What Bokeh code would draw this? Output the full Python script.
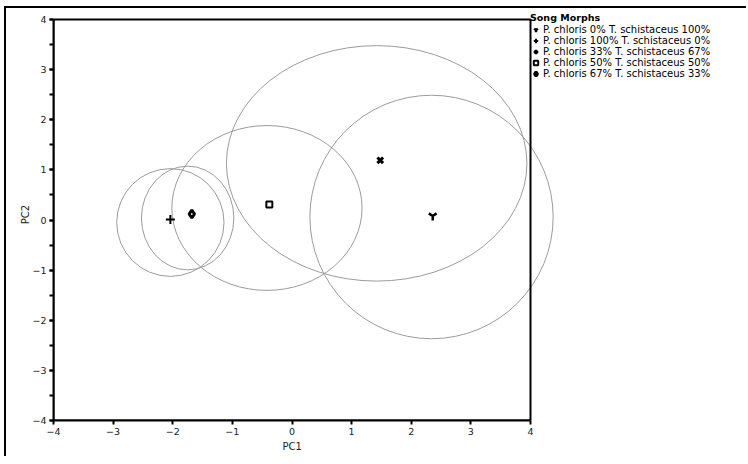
from bokeh.plotting import figure
from bokeh.models import (Range1d, SingleIntervalTicker, BoxAnnotation, Legend,
                          LegendItem, Title)
from bokeh.embed import file_html
from bokeh.resources import INLINE

# ---- data -------------------------------------------------------------
morph_labels = [
    "P. chloris 0% T. schistaceus 100%",
    "P. chloris 100% T. schistaceus 0%",
    "P. chloris 33% T. schistaceus 67%",
    "P. chloris 50% T. schistaceus 50%",
    "P. chloris 67% T. schistaceus 33%",
]
pc1_mean = [2.36, -2.04, 1.48, -0.38, -1.68]
pc2_mean = [0.08, 0.01, 1.19, 0.31, 0.12]
ellipse_pc1 = [2.34, -2.04, 1.42, -0.42, -1.75]
ellipse_pc2 = [0.06, -0.05, 1.13, 0.24, 0.04]
ellipse_width = [4.08, 1.80, 5.04, 3.19, 1.55]
ellipse_height = [4.86, 2.15, 4.70, 3.29, 2.07]
axis_min, axis_max = -4, 4

# ---- styles -----------------------------------------------------------
marker_styles = [
    dict(marker="y", size=9, line_width=2.5, fill_color="black"),
    dict(marker="cross", size=9, line_width=2, fill_color="black"),
    dict(marker="x", size=8, line_width=3, fill_color="black"),
    dict(marker="square", size=6, line_width=2, fill_color="white"),
    dict(marker="diamond", size=8, line_width=3, fill_color="white"),
]

FONT = "DejaVu Sans"
px_per_unit_x = 59.625
px_per_unit_y = 50.125
MB_LEFT = 47
W = 742
frame_w = W - MB_LEFT
x_end = axis_min + frame_w / px_per_unit_x
top_pad = 11                      # frame extends above y=4 so the legend is not clipped
y_end = axis_max + top_pad / px_per_unit_y

p = figure(width=W, height=450, output_backend="svg", toolbar_location=None,
           x_range=Range1d(axis_min, x_end), y_range=Range1d(axis_min, y_end),
           min_border_left=MB_LEFT, min_border_right=0, min_border_top=0,
           min_border_bottom=38,
           styles={"border-left": "2px solid black", "border-top": "2px solid black",
                   "margin-left": "4px", "margin-top": "6px"})
p.grid.visible = False
p.outline_line_color = None
p.background_fill_color = "white"
p.border_fill_color = "white"

# ellipses
p.ellipse(x=ellipse_pc1, y=ellipse_pc2, width=ellipse_width, height=ellipse_height,
          fill_color=None, line_color="#9b9b9b", line_width=1)

items = []
for i, lab in enumerate(morph_labels):
    st = marker_styles[i]
    r = p.scatter(x=[pc1_mean[i]], y=[pc2_mean[i]], line_color="black", **st)
    items.append(LegendItem(label=lab, renderers=[r]))

# frame box (top / right borders)
p.add_layout(BoxAnnotation(left=axis_min, right=axis_max, bottom=axis_min, top=axis_max,
                           fill_alpha=0, line_color="black", line_alpha=1,
                           line_width=2))

# axes
xa = p.xaxis[0]
xa.ticker = SingleIntervalTicker(interval=1, num_minor_ticks=0)
xa.bounds = (axis_min, axis_max)
ya = p.yaxis[0]
ya.ticker = SingleIntervalTicker(interval=1, num_minor_ticks=2)
ya.bounds = (axis_min, axis_max)
ya.axis_label = "PC2"
for ax in (xa, ya):
    ax.axis_line_width = 2
    ax.axis_line_color = "black"
    ax.major_tick_line_width = 2
    ax.minor_tick_line_width = 2
    ax.major_tick_out = 4
    ax.major_tick_in = 0
    ax.minor_tick_out = 4
    ax.minor_tick_in = 0
    ax.major_label_text_font = FONT
    ax.major_label_text_font_size = "9.5px"
    ax.major_label_text_color = "#222222"
    ax.major_label_standoff = 3
    ax.axis_label_text_font = FONT
    ax.axis_label_text_font_size = "10px"
    ax.axis_label_text_font_style = "normal"
    ax.axis_label_text_color = "#222222"
ya.axis_label_standoff = -2

label_w = 19
p.add_layout(Title(text="PC1", align="left",
                   offset=(0 - axis_min) * px_per_unit_x - label_w / 2,
                   text_font=FONT, text_font_size="10px", text_font_style="normal",
                   text_color="#222222", standoff=2), "below")

legend = Legend(items=items, location=(477, 341), title="Song Morphs",
                title_text_font=FONT, title_text_font_size="9.5px",
                title_text_font_style="bold", title_standoff=1,
                title_text_color="black",
                label_text_font=FONT, label_text_font_size="10px",
                label_text_color="black",
                glyph_width=11, glyph_height=11, label_height=11, label_standoff=2,
                spacing=0, padding=0, margin=0,
                border_line_color=None, background_fill_alpha=0)
p.add_layout(legend, "center")

open("out.html", "w").write(file_html(p, INLINE))
